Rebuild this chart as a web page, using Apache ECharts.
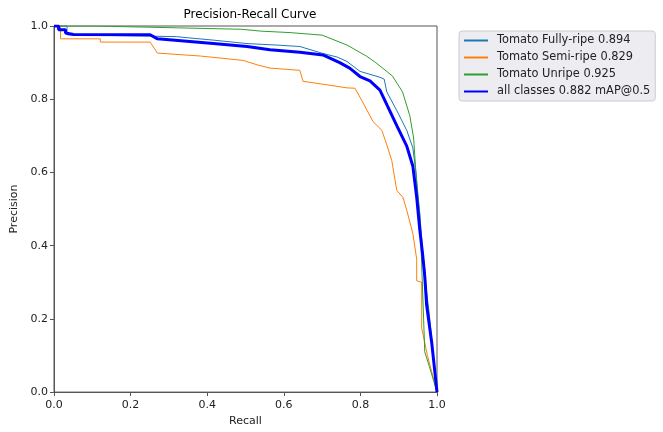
<!DOCTYPE html>
<html>
<head>
<meta charset="utf-8">
<script src="https://cdn.jsdelivr.net/npm/echarts@6/dist/echarts.min.js"></script>
<style>
  html, body { margin: 0; padding: 0; background: #fff; }
  #pr-chart { width: 663px; height: 432px; }
</style>
</head>
<body>
<div id="pr-chart"></div>
<script>
// [recall, precision] pairs
const fullyRipe = [
  [0, 1], [0.034, 1], [0.034, 0.976], [0.32, 0.971], [0.348, 0.968], [0.42, 0.961],
  [0.504, 0.952], [0.58, 0.948], [0.642, 0.944], [0.702, 0.925], [0.74, 0.915],
  [0.765, 0.903], [0.799, 0.876], [0.825, 0.868], [0.851, 0.86], [0.862, 0.855],
  [0.869, 0.82], [0.895, 0.769], [0.921, 0.715], [0.937, 0.667], [0.945, 0.6],
  [0.955, 0.487], [0.96, 0.42], [0.963, 0.379], [0.968, 0.336], [0.972, 0.28],
  [0.978, 0.23], [0.981, 0.2], [0.99, 0.1], [1, 0]
];
const semiRipe = [
  [0, 1], [0.017, 1], [0.017, 0.965], [0.121, 0.965], [0.121, 0.956], [0.251, 0.956],
  [0.27, 0.926], [0.382, 0.918], [0.494, 0.906], [0.53, 0.894], [0.564, 0.885],
  [0.642, 0.879], [0.65, 0.849], [0.702, 0.841], [0.765, 0.831], [0.786, 0.83],
  [0.807, 0.79], [0.833, 0.739], [0.856, 0.715], [0.869, 0.675], [0.882, 0.632],
  [0.885, 0.613], [0.895, 0.551], [0.911, 0.532], [0.921, 0.497], [0.937, 0.433],
  [0.947, 0.363], [0.947, 0.304], [0.96, 0.3], [0.96, 0.175], [0.975, 0.1], [1, 0]
];
const unripe = [
  [0, 1], [0.106, 1], [0.106, 0.995], [0.322, 0.995], [0.322, 0.991], [0.49, 0.991],
  [0.54, 0.986], [0.616, 0.982], [0.70, 0.975], [0.765, 0.948], [0.817, 0.917],
  [0.84, 0.9], [0.858, 0.885], [0.884, 0.863], [0.91, 0.82], [0.929, 0.755],
  [0.939, 0.694], [0.944, 0.613], [0.95, 0.53], [0.955, 0.487], [0.96, 0.35],
  [0.965, 0.2], [0.968, 0.11], [0.98, 0.07], [1, 0]
];
const allClasses = [
  [0, 1], [0.012, 1], [0.012, 0.99], [0.03, 0.99], [0.03, 0.981], [0.051, 0.977],
  [0.251, 0.976], [0.27, 0.965], [0.416, 0.952], [0.504, 0.944], [0.564, 0.935],
  [0.642, 0.928], [0.702, 0.921], [0.746, 0.9], [0.772, 0.885], [0.799, 0.862],
  [0.825, 0.85], [0.851, 0.825], [0.869, 0.785], [0.895, 0.728], [0.921, 0.672],
  [0.937, 0.617], [0.947, 0.532], [0.955, 0.444], [0.963, 0.371], [0.968, 0.317],
  [0.973, 0.237], [0.986, 0.137], [1, 0]
];
const seriesNames = [
  'Tomato Fully-ripe 0.894',
  'Tomato Semi-ripe 0.829',
  'Tomato Unripe 0.925',
  'all classes 0.882 mAP@0.5'
];
const colorList = ['#1f77b4', '#ff7f0e', '#2ca02c', '#0000ff'];

let myChart = echarts.init(document.getElementById('pr-chart'));
const font = 'DejaVu Sans';
const spine = '#555';

function lineSeries(name, data, color, width) {
  return {
    name: name,
    type: 'line',
    data: data,
    symbol: 'none',
    lineStyle: { color: color, width: width },
    itemStyle: { color: color }
  };
}

let option = {
  animation: false,
  title: {
    text: 'Precision-Recall Curve',
    left: 245,
    textAlign: 'center',
    top: 4,
    textStyle: { fontFamily: font, fontSize: 12, fontWeight: 'normal', color: '#000' }
  },
  legend: {
    orient: 'vertical',
    left: 459,
    top: 31,
    padding: [4, 5, 4, 4],
    itemGap: 6,
    itemWidth: 24,
    itemHeight: 12,
    itemStyle: { opacity: 0, borderWidth: 0 },
    backgroundColor: '#ededf1',
    borderColor: '#cccccc',
    borderWidth: 1,
    borderRadius: 3,
    textStyle: { fontFamily: font, fontSize: 11.4, color: '#222', padding: [0, 0, 0, 4] },
    data: seriesNames
  },
  grid: {
    left: 54, right: 226, top: 26, bottom: 34,
    show: true,
    borderColor: spine,
    borderWidth: 1,
    containLabel: false
  },
  xAxis: {
    type: 'value',
    min: 0, max: 1, interval: 0.2,
    name: 'Recall',
    nameLocation: 'middle',
    nameGap: 21,
    nameTextStyle: { fontFamily: font, fontSize: 11, color: '#222' },
    axisLine: { lineStyle: { color: spine } },
    axisTick: { show: true, length: 4, lineStyle: { color: spine } },
    axisLabel: { fontFamily: font, fontSize: 11, color: '#222', margin: 8,
      formatter: (v) => v.toFixed(1) },
    splitLine: { show: false }
  },
  yAxis: {
    type: 'value',
    min: 0, max: 1, interval: 0.2,
    name: 'Precision',
    nameLocation: 'middle',
    nameGap: 28,
    nameTextStyle: { fontFamily: font, fontSize: 11, color: '#222' },
    axisLine: { show: true, lineStyle: { color: spine } },
    axisTick: { show: true, length: 4, lineStyle: { color: spine } },
    axisLabel: { fontFamily: font, fontSize: 11, color: '#222', margin: 6,
      formatter: (v) => v.toFixed(1) },
    splitLine: { show: false }
  },
  series: [
    lineSeries(seriesNames[0], fullyRipe, colorList[0], 1),
    lineSeries(seriesNames[1], semiRipe, colorList[1], 1),
    lineSeries(seriesNames[2], unripe, colorList[2], 1),
    lineSeries(seriesNames[3], allClasses, colorList[3], 3)
  ]
};
myChart.setOption(option);
</script>
</body>
</html>
